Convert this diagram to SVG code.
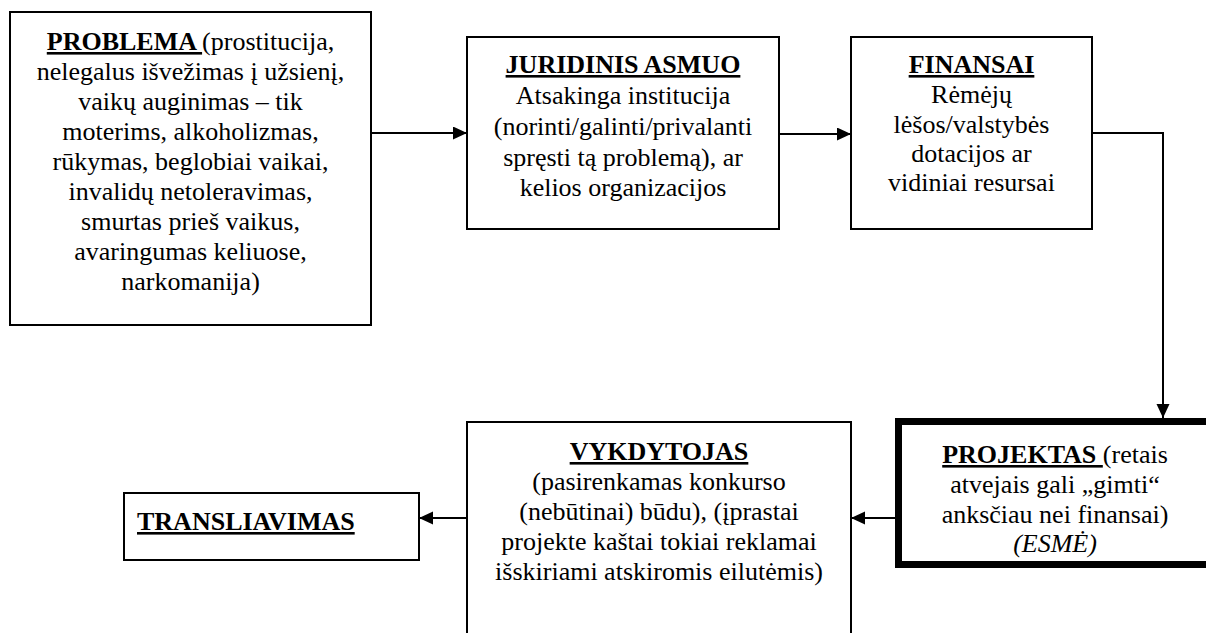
<svg xmlns="http://www.w3.org/2000/svg" width="1206" height="633" viewBox="0 0 1206 633">
  <style>
    .box { fill: #ffffff; stroke: #000000; stroke-width: 2; }
    .thick { fill: #ffffff; stroke: #000000; stroke-width: 7; }
    .t { font-family: 'Liberation Serif', 'Times New Roman', serif; font-size: 26px; fill: #000000; }
    .c { text-anchor: middle; }
    .h { font-weight: bold; text-decoration: underline; }
    .i { font-style: italic; }
    .conn { fill: none; stroke: #000000; stroke-width: 2; }
  </style>
  <defs>
    <marker id="arrow" markerUnits="userSpaceOnUse" markerWidth="14" markerHeight="14" refX="14" refY="6.5" orient="auto">
      <path d="M0,0 L14,6.5 L0,13 z" fill="#000000"/>
    </marker>
  </defs>
  <rect width="1206" height="633" fill="#ffffff"/>

  <g id="connectors">
    <line class="conn" x1="371" y1="133" x2="467" y2="133" marker-end="url(#arrow)"/>
    <line class="conn" x1="779" y1="134" x2="851" y2="134" marker-end="url(#arrow)"/>
    <polyline class="conn" points="1092,133 1163,133 1163,418" marker-end="url(#arrow)"/>
    <line class="conn" x1="895" y1="518" x2="851" y2="518" marker-end="url(#arrow)"/>
    <line class="conn" x1="467" y1="518" x2="419" y2="518" marker-end="url(#arrow)"/>
  </g>

  <g id="problema">
    <rect class="box" x="10" y="12" width="361" height="313"/>
    <text class="t c" x="190.5" y="50"><tspan class="h">PROBLEMA </tspan>(prostitucija,</text>
    <text class="t c" x="190.5" y="80">nelegalus išvežimas į užsienį,</text>
    <text class="t c" x="190.5" y="110">vaikų auginimas – tik</text>
    <text class="t c" x="190.5" y="140">moterims, alkoholizmas,</text>
    <text class="t c" x="190.5" y="170">rūkymas, beglobiai vaikai,</text>
    <text class="t c" x="190.5" y="200">invalidų netoleravimas,</text>
    <text class="t c" x="190.5" y="230">smurtas prieš vaikus,</text>
    <text class="t c" x="190.5" y="260">avaringumas keliuose,</text>
    <text class="t c" x="190.5" y="290">narkomanija)</text>
  </g>

  <g id="juridinis">
    <rect class="box" x="467" y="37" width="312" height="192"/>
    <text class="t c h" x="623" y="73">JURIDINIS ASMUO</text>
    <text class="t c" x="623" y="104">Atsakinga institucija</text>
    <text class="t c" x="623" y="135">(norinti/galinti/privalanti</text>
    <text class="t c" x="623" y="166">spręsti tą problemą), ar</text>
    <text class="t c" x="623" y="196">kelios organizacijos</text>
  </g>

  <g id="finansai">
    <rect class="box" x="851" y="37" width="241" height="192"/>
    <text class="t c h" x="971.5" y="73">FINANSAI</text>
    <text class="t c" x="971.5" y="103">Rėmėjų</text>
    <text class="t c" x="971.5" y="133">lėšos/valstybės</text>
    <text class="t c" x="971.5" y="162">dotacijos ar</text>
    <text class="t c" x="971.5" y="191">vidiniai resursai</text>
  </g>

  <g id="projektas">
    <rect class="thick" x="898.5" y="421.5" width="317" height="143"/>
    <text class="t c" x="1055" y="463"><tspan class="h">PROJEKTAS </tspan>(retais</text>
    <text class="t c" x="1055" y="493">atvejais gali „gimti“</text>
    <text class="t c" x="1055" y="523">anksčiau nei finansai)</text>
    <text class="t c i" x="1055" y="552">(ESMĖ)</text>
  </g>

  <g id="vykdytojas">
    <rect class="box" x="467" y="422" width="384" height="250"/>
    <text class="t c h" x="659" y="460">VYKDYTOJAS</text>
    <text class="t c" x="659" y="490">(pasirenkamas konkurso</text>
    <text class="t c" x="659" y="520">(nebūtinai) būdu), (įprastai</text>
    <text class="t c" x="659" y="550">projekte kaštai tokiai reklamai</text>
    <text class="t c" x="659" y="580">išskiriami atskiromis eilutėmis)</text>
  </g>

  <g id="transliavimas">
    <rect class="box" x="124" y="493" width="295" height="67"/>
    <text class="t h" x="137" y="530">TRANSLIAVIMAS</text>
  </g>
</svg>
